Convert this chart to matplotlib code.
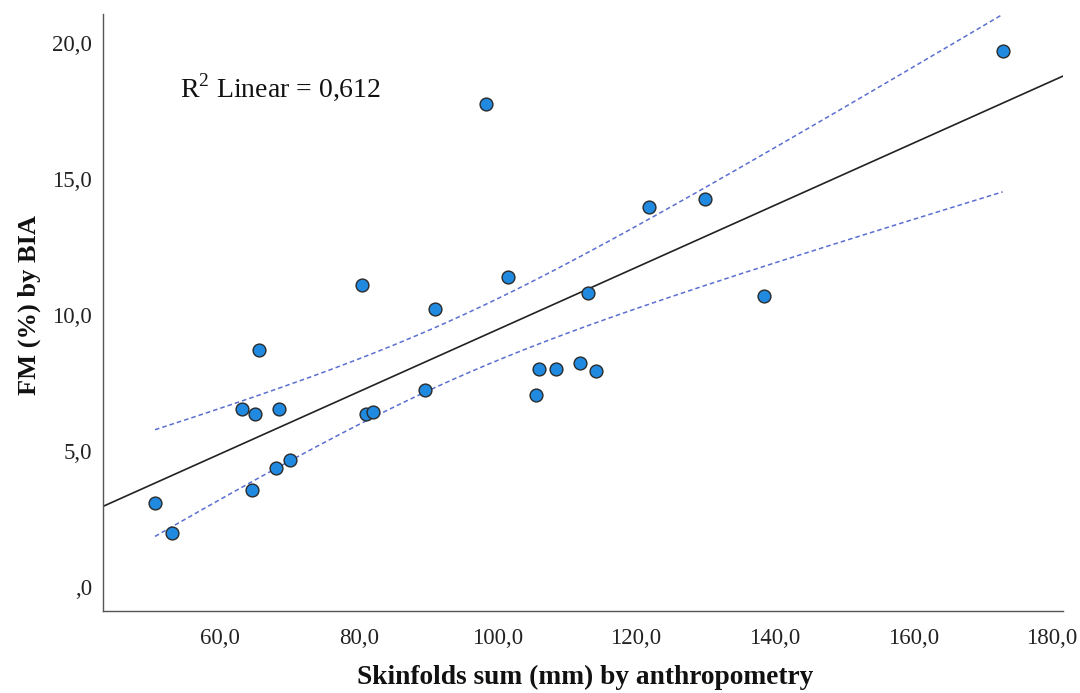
import numpy as np
import matplotlib
matplotlib.use("Agg")
import matplotlib.pyplot as plt
from matplotlib.ticker import FuncFormatter

skinfolds = [50.6, 53.0, 65.6, 63.1, 65.05, 68.56, 64.57, 68.08, 70.06, 81.0, 82.0,
             89.6, 91.0, 101.5, 121.9, 130.0, 113.1, 138.5, 106.0, 108.5, 111.9,
             114.2, 105.5, 80.5, 98.4, 172.9]
fm_bia = [3.08, 2.0, 8.71, 6.53, 6.35, 6.54, 3.57, 4.36, 4.66, 6.35, 6.45,
          7.24, 10.21, 11.41, 13.98, 14.26, 10.80, 10.71, 8.01, 8.01, 8.22,
          7.93, 7.05, 11.1, 17.76, 19.71]
x_ticks = [60, 80, 100, 120, 140, 160, 180]
y_ticks = [0, 5, 10, 15, 20]
r2_text = "R$^2$ Linear = 0,612"
x_label = "Skinfolds sum (mm) by anthropometry"
y_label = "FM (%) by BIA"
T_CRIT = 2.064  # t(0.975, df=24)

plt.rcParams['font.family'] = ['Liberation Serif', 'DejaVu Serif']
plt.rcParams['mathtext.fontset'] = 'custom'
plt.rcParams['mathtext.rm'] = 'Liberation Serif'

x = np.array(skinfolds)
y = np.array(fm_bia)
n = len(x)
b, a = np.polyfit(x, y, 1)
resid = y - (a + b * x)
s = np.sqrt(np.sum(resid ** 2) / (n - 2))
sxx = np.sum((x - x.mean()) ** 2)

fig = plt.figure(figsize=(10.8, 6.93), dpi=100)
ax = fig.add_axes([103 / 1080, 1 - 611 / 693, 960 / 1080, 597 / 693])
xlim = (43.1, 181.6)
ax.set_xlim(*xlim)
ax.set_ylim(-0.88, 21.07)

xl = np.linspace(xlim[0], xlim[1], 200)
ax.plot(xl, a + b * xl, color='#222222', lw=1.2, zorder=2)

xc = np.linspace(x.min(), x.max(), 200)
yc = a + b * xc
hw = T_CRIT * s * np.sqrt(1 / n + (xc - x.mean()) ** 2 / sxx)
for band in (yc + hw, yc - hw):
    ax.plot(xc, band, color='#5a6fd0', lw=1.1, ls=(0, (3, 2)), zorder=2)

ax.scatter(x, y, s=85, facecolor='#1f8ae0', edgecolor='#2a2a2a', linewidth=1.0, zorder=3)

ax.text(0.080, 0.878, r2_text, transform=ax.transAxes, fontsize=20,
        color='#111111', va='center', ha='left')

ax.set_xticks(x_ticks)
ax.set_yticks(y_ticks)
fmt = FuncFormatter(lambda v, p: ("%.1f" % v).replace('.', ',').lstrip('0') if abs(v) < 1 else ("%.1f" % v).replace('.', ','))
ax.xaxis.set_major_formatter(fmt)
ax.yaxis.set_major_formatter(fmt)
ax.tick_params(length=0, labelsize=16.5, colors='#222222')
ax.tick_params(axis='x', pad=12)
ax.tick_params(axis='y', pad=8)

for sp in ('top', 'right'):
    ax.spines[sp].set_visible(False)
for sp in ('left', 'bottom'):
    ax.spines[sp].set_color('#555555')
    ax.spines[sp].set_linewidth(1.0)

fig.text(585 / 1080, 1 - 677 / 693, x_label, fontsize=19.7, fontweight='bold',
         ha='center', va='center', color='#111111')
fig.text(29 / 1080, 1 - 305 / 693, y_label, fontsize=19, fontweight='bold',
         ha='center', va='center', rotation=90, color='#111111')

fig.savefig('out.png', dpi=100)
